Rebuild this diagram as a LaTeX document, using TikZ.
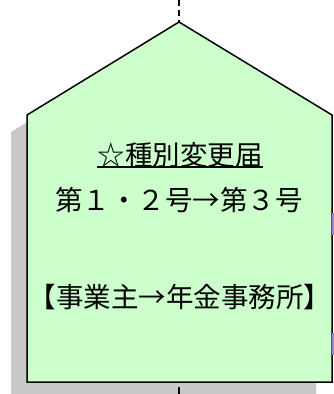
\documentclass[tikz,border=0pt]{standalone}
\usepackage{fontspec}
\usepackage{xcolor}
\newfontfamily\jpfont{Noto Sans CJK JP}
\definecolor{formgreen}{HTML}{CCFFCC}
\definecolor{shadowgray}{HTML}{C8C8C8}
\definecolor{linkpurple}{HTML}{9F7FD8}

\begin{document}
\begin{tikzpicture}[x=1pt,y=-1pt,line join=miter,
        label/.style={inner sep=0pt,font=\jpfont\fontsize{27.5}{32}\selectfont},
        flow/.style={dashed,dash pattern=on 6pt off 4pt,line width=1.2pt}]
        \useasboundingbox (0,0) rectangle (334,394);
        \clip (0,0) rectangle (334,394);
        \fill [shadowgray] (11,132) -- (163,38) -- (316,132) -- (316,398) -- (11,398) -- cycle;
        \filldraw [fill=formgreen,line width=1.5pt] (27,115) coordinate (Left) -- (179,22) coordinate (Apex)
            -- (332,115) -- (332,382) -- (27,382) -- cycle;
        \coordinate (Bottom) at (179,382);
        \coordinate (Above) at (179,0);
        \coordinate (Below) at (179,394);
        \node [label] (Kind) at (180,155) {☆種別変更届};
        \draw [line width=1.3pt] ([yshift=1pt]Kind.south west) -- ([yshift=1pt]Kind.south east);
        \node [label] (Change) at (179,200) {第１・２号→第３号};
        \node [label] (Route) at (180,297) {【事業主→年金事務所】};
        \draw [flow] (Above) -- (Apex);
        \draw [line width=1.2pt] ([yshift=-5pt]Bottom) -- (Below);
        \draw [linkpurple,line width=2pt] (333,213) -- (333,235);
        \draw [linkpurple,line width=2pt] (333,333) -- (333,355);
    \end{tikzpicture}
\end{document}
